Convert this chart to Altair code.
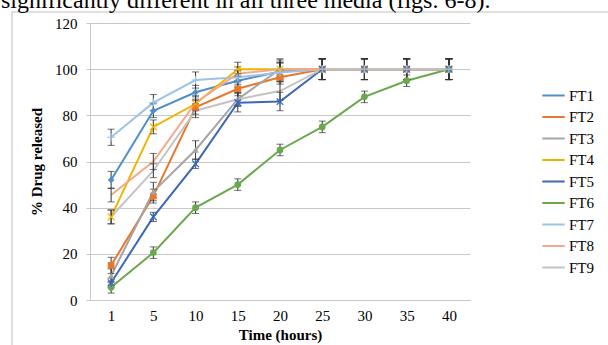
import altair as alt
import pandas as pd

caption = "significantly different in all three media (figs. 6-8)."
times = [1, 5, 10, 15, 20, 25, 30, 35, 40]
series = ["FT1", "FT2", "FT3", "FT4", "FT5", "FT6", "FT7", "FT8", "FT9"]
colors = ["#4f8fc9", "#e8772e", "#a5a5a5", "#f0b400", "#3d68b5", "#6aa84f", "#9dc3e6", "#f4a98a", "#c3c3c3"]

FT1 = [52, 82, 90, 95, 99, 100, 100, 100, 100]
FT2 = [15, 45, 83.5, 91.5, 96.5, 100, 100, 100, 100]
FT3 = [10.5, 47, 65, 87, 100, 100, 100, 100, 100]
FT4 = [36, 75, 85, 100, 100, 100, 100, 100, 100]
FT5 = [7.5, 36, 59, 85.5, 86, 100, 100, 100, 100]
FT6 = [5.5, 20.5, 40, 50, 65, 75, 88, 95, 100]
FT7 = [70.5, 85.5, 95.3, 96.5, 98.6, 100, 100, 100, 100]
FT8 = [45.5, 60, 85.5, 98, 100, 100, 100, 100, 100]
FT9 = [36, 56, 82, 87, 90.5, 100, 100, 100, 100]

E1 = [3.7, 3, 3, 3, 4, 4.5, 4.5, 4.5, 4.5]
E2 = [3.5, 3, 3, 3, 3, 4.5, 4.5, 4.5, 4.5]
E3 = [3, 4, 4, 3, 4.5, 4.5, 4.5, 4.5, 4.5]
E4 = [3, 3, 3, 3, 3, 4.5, 4.5, 4.5, 4.5]
E5 = [2, 2, 2, 4, 4, 4.5, 4.5, 4.5, 4.5]
E6 = [2.5, 2.5, 2.5, 2.5, 2.5, 2.5, 2.5, 2.5, 4.5]
E7 = [3.5, 3.5, 3.5, 3, 4, 4.5, 4.5, 4.5, 4.5]
E8 = [3, 3.5, 3, 3, 4, 4.5, 4.5, 4.5, 4.5]
E9 = [3, 3, 3, 3, 4, 4.5, 4.5, 4.5, 4.5]

values = [FT1, FT2, FT3, FT4, FT5, FT6, FT7, FT8, FT9]
errors = [E1, E2, E3, E4, E5, E6, E7, E8, E9]

rows = []
for s, vals, errs in zip(series, values, errors):
    for t, v, e in zip(times, vals, errs):
        rows.append({"series": s, "time": t, "value": v, "lo": v - e, "hi": v + e})
df = pd.DataFrame(rows)

FONT = "Liberation Serif"

x_enc = alt.X("time:O", scale=alt.Scale(type="point", padding=0.5),
              axis=alt.Axis(title="Time (hours)", labelAngle=0, ticks=False,
                            labelFont=FONT, titleFont=FONT,
                            labelPadding=8, titlePadding=4))
y_enc = alt.Y("value:Q", scale=alt.Scale(domain=[0, 120]),
              axis=alt.Axis(title="% Drug released", values=[0, 20, 40, 60, 80, 100, 120],
                            labelFont=FONT, titleFont=FONT,
                            tickSize=4, labelPadding=9, titlePadding=10))
color_scale = alt.Scale(domain=series, range=colors)

base = alt.Chart(df)

lines = base.mark_line(strokeWidth=2).encode(
    x=x_enc, y=y_enc,
    color=alt.Color("series:N", scale=color_scale,
                    legend=alt.Legend(title=None, orient="none", legendX=451, legendY=60,
                                      symbolType="stroke", symbolStrokeWidth=2,
                                      symbolSize=500, rowPadding=0.5,
                                      labelFontSize=15, labelFont=FONT, labelColor="black",
                                      labelOffset=3)),
)

filled_shapes = {"FT1": "diamond", "FT2": "square", "FT3": "triangle-up", "FT6": "circle"}
stroked_shapes = {"FT4": "M-1,-1L1,1M-1,1L1,-1",
                  "FT5": "M-1,-1L1,1M-1,1L1,-1M0,-1.2L0,1.2",
                  "FT7": "M-1.2,0L1.2,0M0,-1.2L0,1.2"}

pts_filled = base.transform_filter(
    alt.FieldOneOfPredicate(field="series", oneOf=list(filled_shapes.keys()))
).mark_point(filled=True, size=45, opacity=1).encode(
    x="time:O", y="value:Q",
    color=alt.Color("series:N", scale=color_scale, legend=None),
    shape=alt.Shape("series:N", scale=alt.Scale(domain=list(filled_shapes.keys()),
                                                range=list(filled_shapes.values())), legend=None),
)

pts_stroked = base.transform_filter(
    alt.FieldOneOfPredicate(field="series", oneOf=list(stroked_shapes.keys()))
).mark_point(filled=False, size=45, strokeWidth=1.2, opacity=1).encode(
    x="time:O", y="value:Q",
    color=alt.Color("series:N", scale=color_scale, legend=None),
    shape=alt.Shape("series:N", scale=alt.Scale(domain=list(stroked_shapes.keys()),
                                                range=list(stroked_shapes.values())), legend=None),
)

err_rule = base.mark_rule(color="#333333", strokeWidth=1).encode(
    x="time:O", y="lo:Q", y2="hi:Q")
err_lo = base.mark_tick(color="#333333", thickness=1, size=7).encode(x="time:O", y="lo:Q")
err_hi = base.mark_tick(color="#333333", thickness=1, size=7).encode(x="time:O", y="hi:Q")

frame = alt.Chart(pd.DataFrame({"k": [0]})).mark_rect(
    fill=None, stroke="#bfbfbf", strokeWidth=1).encode(
    x=alt.value(-78), x2=alt.value(560), y=alt.value(-11), y2=alt.value(400))

cap = alt.Chart(pd.DataFrame({"t": [caption]})).mark_text(
    align="left", baseline="alphabetic", font=FONT, fontSize=24, color="black").encode(
    x=alt.value(-89), y=alt.value(-15), text="t:N")

chart = alt.layer(frame, cap, lines, err_rule, err_lo, err_hi, pts_filled, pts_stroked).resolve_scale(
    shape="independent"
).properties(
    width=380, height=277,
    autosize=alt.AutoSizeParams(type="none"),
    padding={"left": 90, "top": 23, "right": 138, "bottom": 45},
    background="white",
).configure(font=FONT).configure_view(stroke=None).configure_axis(
    labelFont=FONT, titleFont=FONT, labelFontSize=15, titleFontSize=15,
    labelColor="black", titleColor="black", titleFontWeight="bold",
    gridColor="#c8c8c8", domainColor="#c8c8c8", tickColor="#c8c8c8",
).configure_axisX(grid=False).configure_axisY(domain=True).configure_legend(
    labelFont=FONT
)

chart.save("out.html", embed_options={"renderer": "svg", "actions": False})
